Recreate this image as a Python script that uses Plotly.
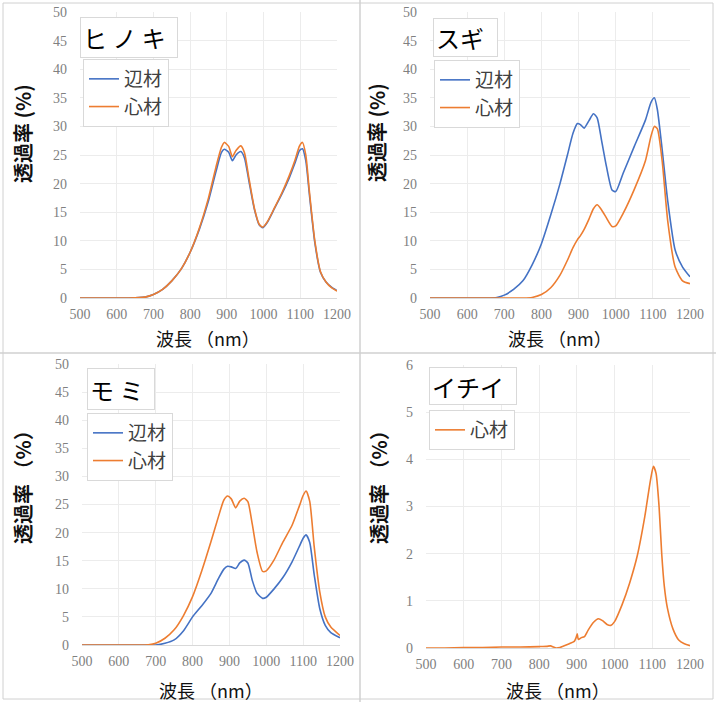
import plotly.graph_objects as go

W, H = 716, 702

# ---------------- data ----------------
hinoki_x = [500, 550, 600, 650, 680, 700, 725, 750, 775, 800, 825, 850, 870, 885, 893, 905, 915, 925, 938, 948, 960, 975, 988, 998, 1010, 1030, 1050, 1070, 1085, 1098, 1106, 1115, 1125, 1140, 1155, 1170, 1185, 1200]
hinoki_sap = [0, 0, 0, 0.05, 0.2, 0.6, 1.5, 3.0, 5.0, 8.0, 12.0, 17.0, 22.0, 25.4, 26.0, 25.5, 24.0, 25.0, 25.6, 24.5, 20.5, 15.5, 12.8, 12.3, 13.2, 15.7, 18.2, 21.0, 23.5, 25.8, 26.1, 24.0, 18.0, 9.5, 4.5, 2.8, 1.9, 1.3]
hinoki_heart = [0, 0, 0, 0.05, 0.2, 0.6, 1.5, 3.0, 5.0, 8.0, 12.2, 17.5, 22.8, 26.3, 27.2, 26.5, 24.7, 25.8, 26.6, 25.4, 21.0, 15.7, 12.9, 12.4, 13.3, 15.8, 18.4, 21.4, 24.0, 26.6, 27.2, 25.0, 18.5, 9.8, 4.6, 2.8, 1.8, 1.2]

sugi_x = [500, 550, 600, 650, 680, 700, 725, 750, 775, 800, 825, 850, 870, 885, 897, 905, 915, 928, 940, 950, 962, 975, 990, 1000, 1020, 1050, 1080, 1095, 1104, 1112, 1125, 1140, 1160, 1180, 1200]
sugi_sap = [0, 0, 0, 0, 0.1, 0.5, 1.5, 3.0, 5.8, 9.5, 14.5, 20.0, 25.0, 28.8, 30.5, 30.3, 29.7, 31.0, 32.2, 31.5, 27.5, 23.0, 18.9, 18.6, 21.8, 26.5, 31.1, 34.2, 35.0, 33.0, 26.0, 17.0, 8.4, 5.4, 3.7]
sugi_heart = [0, 0, 0, 0, 0, 0, 0, 0, 0.1, 0.6, 1.8, 4.0, 6.6, 8.8, 10.2, 10.9, 12.0, 13.8, 15.6, 16.3, 15.4, 14.0, 12.5, 12.6, 14.8, 19.0, 24.0, 28.3, 30.0, 29.6, 24.0, 13.5, 5.4, 3.0, 2.5]

momi_x = [500, 550, 600, 650, 680, 700, 725, 750, 775, 800, 825, 850, 870, 885, 895, 905, 917, 928, 940, 950, 962, 975, 990, 1000, 1020, 1045, 1070, 1090, 1100, 1108, 1118, 1130, 1145, 1160, 1175, 1200]
momi_sap = [0, 0, 0, 0, 0, 0, 0.3, 0.9, 2.5, 5.0, 7.0, 9.2, 11.8, 13.5, 14.0, 13.9, 13.6, 14.6, 15.1, 14.6, 11.5, 9.2, 8.3, 8.5, 9.9, 12.0, 14.8, 17.6, 19.0, 19.6, 18.2, 12.5, 6.5, 3.5, 2.2, 1.3]
momi_heart = [0, 0, 0, 0, 0.05, 0.3, 1.2, 2.7, 5.2, 8.6, 13.2, 18.4, 22.8, 25.8, 26.5, 26.0, 24.4, 25.6, 26.1, 25.5, 21.5, 16.5, 13.1, 13.2, 15.0, 18.3, 21.3, 24.8, 26.6, 27.4, 25.5, 17.5, 9.5, 5.0, 3.2, 1.7]

ichii_x = [500, 550, 600, 650, 700, 750, 800, 820, 830, 838, 845, 855, 865, 880, 893, 898, 901, 904, 912, 920, 930, 945, 957, 968, 980, 990, 1000, 1020, 1040, 1060, 1080, 1095, 1103, 1110, 1118, 1125, 1132, 1140, 1155, 1170, 1185, 1200]
ichii_heart = [0.0, 0.0, 0.01, 0.01, 0.02, 0.02, 0.03, 0.035, 0.045, 0.02, 0.0, 0.01, 0.04, 0.09, 0.14, 0.22, 0.3, 0.18, 0.22, 0.24, 0.38, 0.55, 0.62, 0.58, 0.50, 0.48, 0.56, 0.92, 1.38, 1.95, 2.78, 3.55, 3.85, 3.70, 3.00, 2.00, 1.30, 0.85, 0.40, 0.17, 0.09, 0.05]

x_ticks = [500, 600, 700, 800, 900, 1000, 1100, 1200]
titles = ["ヒ ノ キ", "スギ", "モ ミ", "イチイ"]
sap_name = "辺材"
heart_name = "心材"
x_label = "波長 （nm）"
y_labels = ["透過率 (%)", "透過率 (%)", "透過率 （%）", "透過率 （%）"]

BLUE = "#4472C4"
ORANGE = "#ED7D31"

# ---------------- layout helpers ----------------
def px_x(v):
    return v / W

def px_y(v):
    return 1 - v / H

# plot-area pixel boxes: (left, right, top, bottom)
boxes = [(80, 337, 12, 298), (430, 690, 12, 298), (82, 340, 364, 645), (426, 690, 365, 648)]
title_pos = [(80, 17, 102, 41), (433, 18, 69, 39), (87, 368, 72, 42), (429, 367, 92, 38)]
legend_pos = [(83, 59), (434, 60), (87, 413), (429, 410)]
ytitle_x = [22, 376, 22, 378]
ytitle_y = [134, 133, 482, 482]
xtitle_y = [338, 338, 690, 690]

fig = go.Figure()

series = [
    [(hinoki_x, hinoki_sap, sap_name, BLUE), (hinoki_x, hinoki_heart, heart_name, ORANGE)],
    [(sugi_x, sugi_sap, sap_name, BLUE), (sugi_x, sugi_heart, heart_name, ORANGE)],
    [(momi_x, momi_sap, sap_name, BLUE), (momi_x, momi_heart, heart_name, ORANGE)],
    [(ichii_x, ichii_heart, heart_name, ORANGE)],
]

tick_font = dict(family="Liberation Serif", size=14, color="#808080")
cjk = "Noto Sans CJK JP"

layout = {}
annotations = []
for i in range(4):
    n = "" if i == 0 else str(i + 1)
    l, r, t, b = boxes[i]
    ymax = 6 if i == 3 else 50
    dtick = 1 if i == 3 else 5
    for (xs, ys, name, col) in series[i]:
        fig.add_trace(go.Scatter(
            x=xs, y=ys, mode="lines", name=name,
            line=dict(color=col, width=1.6, shape="spline", smoothing=0.6),
            xaxis="x" + n, yaxis="y" + n, legend="legend" + n,
        ))
    layout["xaxis" + n] = dict(
        domain=[px_x(l), px_x(r)], range=[500, 1200], anchor="y" + n,
        tickvals=x_ticks, ticks="", tickfont=tick_font, ticklabelstandoff=3,
        showgrid=True, gridcolor="#ececec", gridwidth=1,
        showline=True, linecolor="#d9d9d9", zeroline=False, fixedrange=True,
        automargin=False,
    )
    layout["yaxis" + n] = dict(
        domain=[px_y(b), px_y(t)], range=[0, ymax], anchor="x" + n,
        dtick=dtick, ticks="", tickfont=tick_font, ticklabelstandoff=12,
        showgrid=True, gridcolor="#ececec", gridwidth=1,
        showline=False, zeroline=False, fixedrange=True,
        automargin=False,
    )
    tl, tt, tw, th = title_pos[i]
    annotations.append(dict(
        text=titles[i], xref="paper", yref="paper",
        x=px_x(tl), y=px_y(tt), xanchor="left", yanchor="top",
        showarrow=False, align="left", width=tw - 10, height=th - 6,
        font=dict(family=cjk, size=24, color="#000000"),
        bordercolor="#d9d9d9", borderwidth=1, borderpad=2, bgcolor="white",
    ))
    annotations.append(dict(
        text=x_label, xref="paper", yref="paper",
        x=px_x((l + r) / 2), y=px_y(xtitle_y[i]), xanchor="center", yanchor="middle",
        showarrow=False, font=dict(family=cjk, size=18, color="#111111"),
    ))
    annotations.append(dict(
        text="<b>" + y_labels[i] + "</b>", xref="paper", yref="paper",
        x=px_x(ytitle_x[i]), y=px_y(ytitle_y[i]), xanchor="center", yanchor="middle",
        textangle=-90, showarrow=False, font=dict(family=cjk, size=20, color="#111111"),
    ))
    lx, ly = legend_pos[i]
    layout["legend" + n] = dict(
        x=px_x(lx), y=px_y(ly), xanchor="left", yanchor="top",
        bordercolor="#d9d9d9", borderwidth=1, bgcolor="white",
        font=dict(family=cjk, size=19, color="#404040"),
        itemwidth=30, tracegroupgap=0,
    )

shapes = [
    dict(type="rect", xref="paper", yref="paper", x0=px_x(3), x1=px_x(713), y0=px_y(699), y1=px_y(3),
         line=dict(color="#d0d0d0", width=1)),
    dict(type="line", xref="paper", yref="paper", x0=px_x(360), x1=px_x(360), y0=0, y1=1,
         line=dict(color="#d0d0d0", width=1.5)),
    dict(type="line", xref="paper", yref="paper", x0=0, x1=1, y0=px_y(353), y1=px_y(353),
         line=dict(color="#d0d0d0", width=1.5)),
]

fig.update_layout(
    width=W, height=H, margin=dict(l=0, r=0, t=0, b=0, pad=0, autoexpand=False),
    paper_bgcolor="white", plot_bgcolor="white",
    showlegend=True, annotations=annotations, shapes=shapes,
    **layout,
)

fig.write_html(
    "out.html",
    config={"displayModeBar": False},
    post_script="document.body.style.margin='0px';document.body.style.overflow='hidden';",
)
